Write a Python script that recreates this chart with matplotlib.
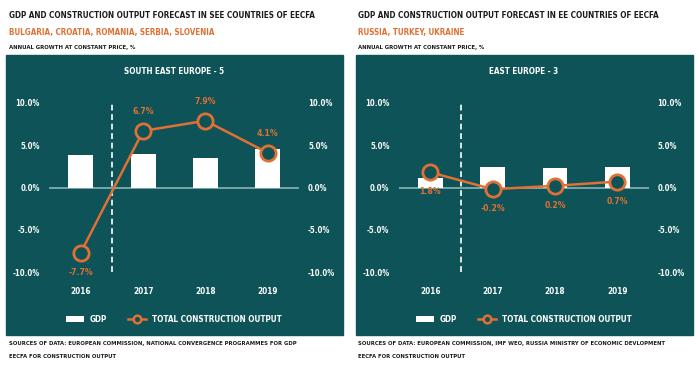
import matplotlib
matplotlib.use("Agg")
import matplotlib.pyplot as plt
from matplotlib import font_manager
from matplotlib.patches import Rectangle, Patch
from matplotlib.lines import Line2D

# data
years = ["2016", "2017", "2018", "2019"]
see_gdp = [3.9, 4.0, 3.5, 4.5]
see_construction = [-7.7, 6.7, 7.9, 4.1]
ee_gdp = [1.1, 2.4, 2.3, 2.4]
ee_construction = [1.8, -0.2, 0.2, 0.7]
y_ticks = [-10, -5, 0, 5, 10]

TEAL = "#0e5357"
ORANGE = "#e07034"
DARK = "#1c1c1c"
ZERO = "#8db3b5"

# pick a narrow font if we have one
fonts = font_manager.fontManager.ttflist
names = {f.name for f in fonts}
if "Liberation Sans Narrow" in names:
    FAM, STRETCH = "Liberation Sans Narrow", "normal"
elif any(f.name == "DejaVu Sans" and f.stretch == "condensed" for f in fonts):
    FAM, STRETCH = "DejaVu Sans", "condensed"
else:
    FAM, STRETCH = "DejaVu Sans", "normal"
plt.rcParams["font.family"] = [FAM, "DejaVu Sans"]
plt.rcParams["font.stretch"] = STRETCH
plt.rcParams["font.weight"] = "bold"

W, H = 700, 367
fig = plt.figure(figsize=(7, 3.67), dpi=100)


def fx(v):
    return v / W


def fy(v):
    return 1 - v / H


def panel(x0, title, countries, region, gdp, constr, above, source1, source2):
    # header
    fig.text(fx(x0 + 9), fy(16), title, fontsize=5.9, color=DARK, va="center")
    fig.text(fx(x0 + 9), fy(32), countries, fontsize=5.8, color=ORANGE, va="center")
    fig.text(fx(x0 + 9), fy(47), "ANNUAL GROWTH AT CONSTANT PRICE, %", fontsize=4.3,
             color=DARK, va="center")
    # teal box
    fig.patches.append(Rectangle((fx(x0 + 6), fy(335)), fx(337), (335 - 55) / H,
                                 transform=fig.transFigure, color=TEAL, zorder=-1))
    fig.text(fx(x0 + 174.5), fy(72), region, fontsize=5.9, color="white",
             ha="center", va="center")

    ax = fig.add_axes([fx(x0 + 49), fy(272), fx(250), (272 - 103) / H])
    ax.set_zorder(2)
    ax.set_facecolor("none")
    x = list(range(len(years)))
    ax.bar(x, gdp, width=0.4, color="white", zorder=2)
    ax.axhline(0, color=ZERO, lw=1.2, zorder=1)
    ax.plot([0.5, 0.5], [-10, 10], color="white", lw=1.2, ls=(0, (3.5, 2.2)), zorder=1)
    ax.plot(x, constr, color=ORANGE, lw=1.8, marker="o", ms=11, mfc=TEAL,
            mec=ORANGE, mew=2.0, zorder=3, clip_on=False)
    for xi, v, up in zip(x, constr, above):
        ax.annotate(f"{v:.1f}%", (xi, v), xytext=(0, 14 if up else -14),
                    textcoords="offset points", ha="center", va="center",
                    color=ORANGE, fontsize=6.2)

    ax.set_xlim(-0.51, 3.5)
    ax.set_ylim(-10, 10)
    ax.set_xticks(x)
    ax.set_xticklabels(years)
    ax.set_yticks(y_ticks)
    ax.set_yticklabels([f"{t:.1f}%" for t in y_ticks])
    ax.tick_params(axis="y", length=0, colors="white", labelsize=5.6, pad=6.5,
                   labelright=True)
    ax.tick_params(axis="x", length=0, colors="white", labelsize=5.9, pad=11)
    for s in ax.spines.values():
        s.set_visible(False)

    handles = [Patch(facecolor="white", edgecolor="none"),
               Line2D([], [], color=ORANGE, lw=1.8, marker="o", ms=5.5, mfc=TEAL,
                      mec=ORANGE, mew=1.8)]
    ax.legend(handles, ["GDP", "TOTAL CONSTRUCTION OUTPUT"], loc="center",
              bbox_to_anchor=(0.5, (272 - 319) / 169), ncol=2, frameon=False,
              labelcolor="white", fontsize=5.9, handlelength=2.2,
              handletextpad=0.7, columnspacing=2.6)

    fig.text(fx(x0 + 9), fy(343), source1, fontsize=4.2, color=DARK, va="center")
    fig.text(fx(x0 + 9), fy(356), source2, fontsize=4.2, color=DARK, va="center")
    return ax


panel(0, "GDP AND CONSTRUCTION OUTPUT FORECAST IN SEE COUNTRIES OF EECFA",
      "BULGARIA, CROATIA, ROMANIA, SERBIA, SLOVENIA", "SOUTH EAST EUROPE - 5",
      see_gdp, see_construction, [False, True, True, True],
      "SOURCES OF DATA: EUROPEAN COMMISSION, NATIONAL CONVERGENCE PROGRAMMES FOR GDP",
      "EECFA FOR CONSTRUCTION OUTPUT")
panel(349.5, "GDP AND CONSTRUCTION OUTPUT FORECAST IN EE COUNTRIES OF EECFA",
      "RUSSIA, TURKEY, UKRAINE", "EAST EUROPE - 3",
      ee_gdp, ee_construction, [False, False, False, False],
      "SOURCES OF DATA: EUROPEAN COMMISSION, IMF WEO, RUSSIA MINISTRY OF ECONOMIC DEVLOPMENT",
      "EECFA FOR CONSTRUCTION OUTPUT")

fig.savefig("out.png", dpi=100)
